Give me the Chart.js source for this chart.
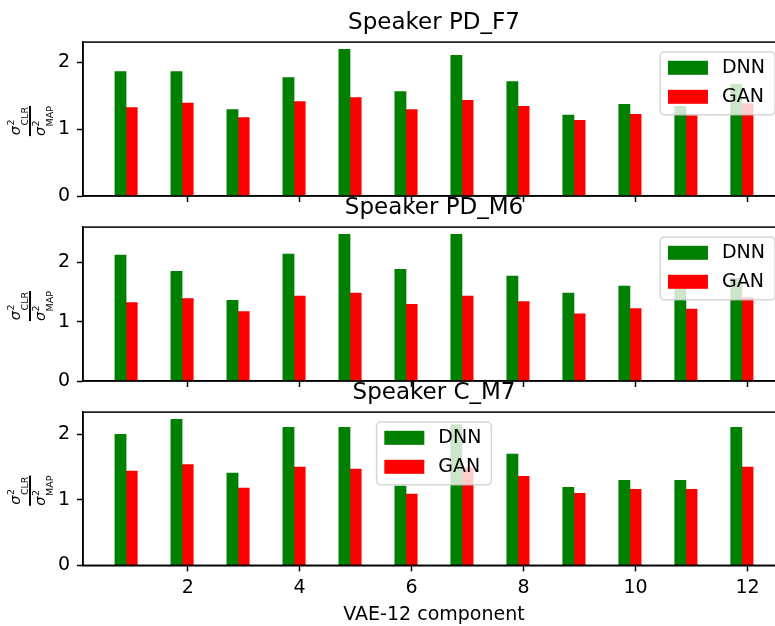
<!DOCTYPE html>
<html>
<head>
<meta charset="utf-8">
<script src="https://cdn.jsdelivr.net/npm/chart.js@4/dist/chart.umd.min.js"></script>
<style>
  html, body { margin: 0; padding: 0; background: #fff; overflow: hidden; }
  #fig { position: relative; width: 775px; height: 626px; overflow: hidden; background: #fff; }
  #fig canvas { position: absolute; left: 0; }
</style>
</head>
<body>
<div id="fig">
  <canvas id="p1" width="790" height="206" style="top:0px"></canvas>
  <canvas id="p2" width="790" height="206" style="top:185px"></canvas>
  <canvas id="p3" width="790" height="256" style="top:370px"></canvas>
</div>
<script>
// VAE-12 components on the x axis
const components = [1, 2, 3, 4, 5, 6, 7, 8, 9, 10, 11, 12];
const xTickValues = [2, 4, 6, 8, 10, 12];
const yTickValues = [0, 1, 2];
const seriesNames = ['DNN', 'GAN'];
const xAxisTitle = 'VAE-12 component';

// variance ratio per component, one pair of series per speaker
const dnnPD_F7 = [1.86, 1.86, 1.29, 1.77, 2.19, 1.56, 2.10, 1.71, 1.21, 1.37, 1.34, 1.67];
const ganPD_F7 = [1.32, 1.39, 1.17, 1.41, 1.47, 1.29, 1.43, 1.34, 1.13, 1.22, 1.20, 1.38];

const dnnPD_M6 = [2.12, 1.85, 1.36, 2.14, 2.47, 1.88, 2.47, 1.77, 1.48, 1.60, 1.56, 1.73];
const ganPD_M6 = [1.32, 1.39, 1.17, 1.43, 1.48, 1.29, 1.43, 1.34, 1.13, 1.22, 1.21, 1.40];

const dnnC_M7 = [2.00, 2.23, 1.41, 2.11, 2.11, 1.21, 2.15, 1.70, 1.19, 1.30, 1.30, 2.11];
const ganC_M7 = [1.44, 1.54, 1.18, 1.50, 1.47, 1.09, 1.49, 1.36, 1.10, 1.16, 1.16, 1.50];

const FONT = "'DejaVu Sans', 'Liberation Sans', sans-serif";
Chart.defaults.font.family = FONT;
Chart.defaults.color = '#000';

// bar layout: DNN sits just left of the component, GAN centred on it
const BAR_W = 0.2;
const dnnX = components.map(c => c - BAR_W);
const ganX = components.map(c => c);
const lo = Math.min(...dnnX) - BAR_W / 2;
const hi = Math.max(...ganX) + BAR_W / 2;
const xMin = lo - 0.05 * (hi - lo);
const xMax = hi + 0.05 * (hi - lo);

// sigma^2_sub drawn with a raised 2 and a lowered subscript
function drawSigma(ctx, cx, baseY, sub) {
  const big = "italic 14.5px " + FONT, small = "9.5px " + FONT;
  ctx.font = big;
  const ws = ctx.measureText('σ').width;
  ctx.font = small;
  const wsub = ctx.measureText(sub).width;
  const total = ws + 0.5 + wsub;
  const x0 = cx - total / 2;
  ctx.font = big;
  ctx.fillText('σ', x0, baseY);
  ctx.font = small;
  ctx.fillText('2', x0 + ws + 0.5, baseY - 6.5);
  ctx.fillText(sub, x0 + ws + 0.5, baseY + 8);
  return total;
}

const panelDecor = {
  id: 'panelDecor',
  afterDatasetsDraw(chart, args, opts) {
    const { ctx, chartArea: a } = chart;
    ctx.save();
    // spines drawn over the bars
    ctx.strokeStyle = '#000';
    ctx.lineWidth = 1.5;
    ctx.strokeRect(a.left, a.top, a.right - a.left, a.bottom - a.top);

    // legend frame with the dataset swatches
    ctx.font = "19px " + FONT;
    const items = chart.data.datasets.map(d => ({ label: d.label, color: d.backgroundColor }));
    const textW = Math.max(...items.map(i => ctx.measureText(i.label).width));
    const pad = 7.7, patchW = 40, patchH = 14, gap = 14, rowH = 29;
    const w = pad + patchW + gap + textW + 10;
    const h = 62.7;
    const top = a.top + 10;
    const left = opts.loc === 'upper right'
      ? a.right - 10 - w
      : (a.left + a.right) / 2 - w / 2;
    ctx.beginPath();
    ctx.roundRect(left, top, w, h, 4);
    ctx.fillStyle = 'rgba(255,255,255,0.8)';
    ctx.fill();
    ctx.strokeStyle = 'rgba(204,204,204,0.8)';
    ctx.lineWidth = 1.5;
    ctx.stroke();
    items.forEach((it, i) => {
      const py = top + 8.7 + i * rowH;
      ctx.fillStyle = it.color;
      ctx.fillRect(left + pad, py, patchW, patchH);
      ctx.fillStyle = '#000';
      ctx.textBaseline = 'middle';
      ctx.textAlign = 'left';
      ctx.fillText(it.label, left + pad + patchW + gap, py + patchH / 2);
    });
    ctx.restore();
  },
  afterDraw(chart) {
    // y axis label: sigma^2_CLR over sigma^2_MAP, rotated
    const { ctx, chartArea: a } = chart;
    ctx.save();
    ctx.translate(30, (a.top + a.bottom) / 2 + 2);
    ctx.rotate(-Math.PI / 2);
    ctx.fillStyle = '#000';
    ctx.textAlign = 'left';
    ctx.textBaseline = 'alphabetic';
    const w1 = drawSigma(ctx, 0, -10, 'CLR');
    const w2 = drawSigma(ctx, 0, 15, 'MAP');
    const rule = Math.max(w1, w2);
    ctx.fillRect(-rule / 2, -1, rule, 2);
    ctx.restore();
  }
};

function makePanel(id, title, dnn, gan, showX, xAxisHeight, loc) {
  const yMax = 1.05 * Math.max(...dnn, ...gan);
  return new Chart(document.getElementById(id), {
    type: 'bar',
    data: {
      datasets: [
        { label: seriesNames[0], data: dnnX.map((x, i) => ({ x, y: dnn[i] })), backgroundColor: 'green' },
        { label: seriesNames[1], data: ganX.map((x, i) => ({ x, y: gan[i] })), backgroundColor: 'red' }
      ]
    },
    options: {
      responsive: false,
      animation: false,
      devicePixelRatio: 1,
      events: [],
      datasets: { bar: { grouped: false, categoryPercentage: 1, barPercentage: 1, borderWidth: 0 } },
      layout: { padding: { top: 8, left: 0, right: 5, bottom: 0 } },
      plugins: {
        legend: { display: false },
        tooltip: { enabled: false },
        title: {
          display: true, text: title, fullSize: false,
          font: { size: 23, weight: 'normal', lineHeight: 1.2 },
          padding: { top: 1.5, bottom: 5 }, color: '#000'
        },
        panelDecor: { loc }
      },
      scales: {
        x: {
          type: 'linear', min: xMin, max: xMax, offset: false,
          afterBuildTicks: s => { s.ticks = xTickValues.map(v => ({ value: v })); },
          afterFit: s => { s.height = xAxisHeight; s.paddingLeft = 0; s.paddingRight = 0; },
          ticks: { display: showX, font: { size: 19 }, padding: 5, color: '#000', maxRotation: 0, autoSkip: false },
          grid: { offset: false, drawOnChartArea: false, drawTicks: true, tickLength: 6, tickWidth: 1.5, tickColor: '#000', color: '#000' },
          border: { display: true, color: '#000', width: 1.5 },
          title: { display: showX, text: xAxisTitle, font: { size: 19 }, padding: { top: 0, bottom: 0 }, color: '#000' }
        },
        y: {
          min: 0, max: yMax,
          afterBuildTicks: s => { s.ticks = yTickValues.map(v => ({ value: v })); },
          afterFit: s => { s.width = 83; s.paddingTop = 0; s.paddingBottom = 0; },
          ticks: { font: { size: 19 }, padding: 7, color: '#000' },
          grid: { drawOnChartArea: false, drawTicks: true, tickLength: 6, tickWidth: 1.5, tickColor: '#000', color: '#000' },
          border: { display: true, color: '#000', width: 1.5 }
        }
      }
    },
    plugins: [panelDecor]
  });
}

makePanel('p1', 'Speaker PD_F7', dnnPD_F7, ganPD_F7, false, 10, 'upper right');
makePanel('p2', 'Speaker PD_M6', dnnPD_M6, ganPD_M6, false, 10, 'upper right');
makePanel('p3', 'Speaker C_M7', dnnC_M7, ganC_M7, true, 60.7, 'upper center');
</script>
</body>
</html>
